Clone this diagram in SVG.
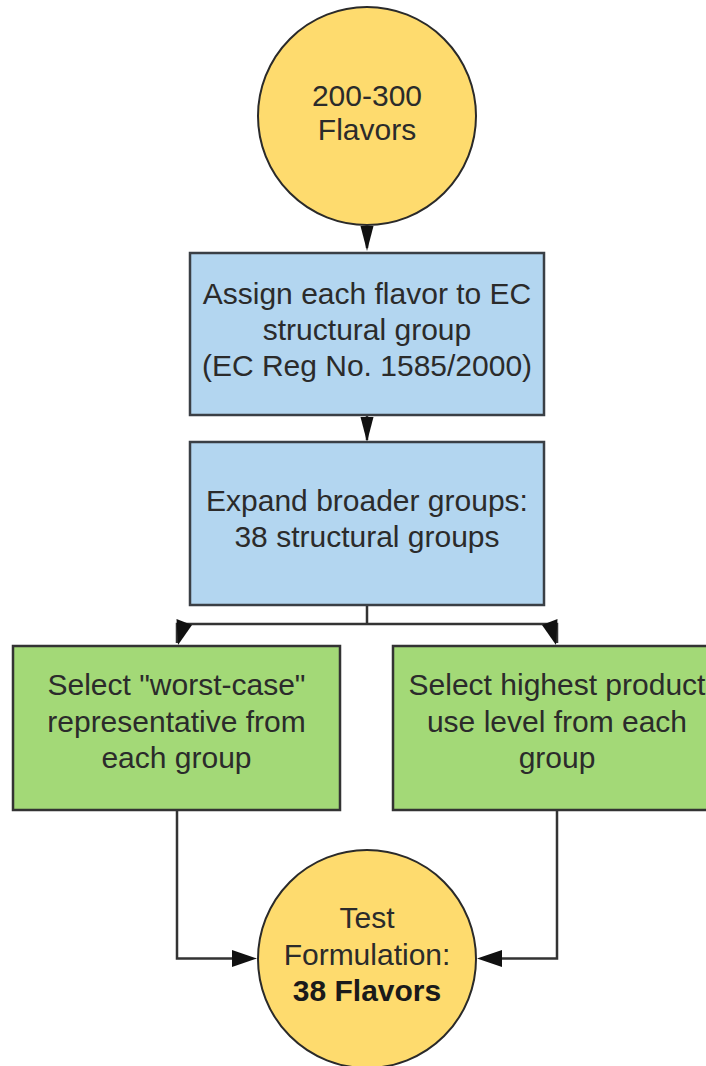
<svg xmlns="http://www.w3.org/2000/svg" width="706" height="1066" viewBox="0 0 706 1066">
  <style>
    .txt { font-family: "Liberation Sans", Arial, sans-serif; font-size: 30px; fill: #2b2b2b; text-anchor: middle; }
    .bold { font-weight: bold; fill: #1a1a1a; }
    .circle { fill: #fedb6e; stroke: #2a2a2a; stroke-width: 2; }
    .blue { fill: #b3d6f0; stroke: #3a3f45; stroke-width: 2.5; }
    .green { fill: #a3d977; stroke: #333333; stroke-width: 2.5; }
    .conn { fill: none; stroke: #333333; stroke-width: 2.5; }
    .head { fill: #111111; stroke: none; }
  </style>
  <rect width="706" height="1066" fill="#ffffff"/>

  <g id="connectors">
    <line class="conn" x1="367" y1="225" x2="367" y2="248"/>
    <polygon class="head" points="360.5,226 373.5,226 367,251"/>
    <line class="conn" x1="367" y1="415" x2="367" y2="440"/>
    <polygon class="head" points="360.5,417 373.5,417 367,442"/>
    <polyline class="conn" points="367,605 367,624"/>
    <polyline class="conn" points="177,643 177,624 557,624 557,643"/>
    <polygon class="head" points="176.5,619 192,625 178,645"/>
    <polygon class="head" points="557.5,619 542,625 556,645"/>
    <polyline class="conn" points="177,810 177,958.5 236,958.5"/>
    <polygon class="head" points="232,950 257,958.5 232,967"/>
    <polyline class="conn" points="557,810 557,958.5 498,958.5"/>
    <polygon class="head" points="502,950 477,958.5 502,967"/>
  </g>

  <g id="node-start">
    <circle class="circle" cx="367" cy="116" r="109"/>
    <text class="txt" x="367" y="106">200-300</text>
    <text class="txt" x="367" y="140">Flavors</text>
  </g>

  <g id="node-assign">
    <rect class="blue" x="190" y="253" width="354" height="162"/>
    <text class="txt" x="367" y="304">Assign each flavor to EC</text>
    <text class="txt" x="367" y="340">structural group</text>
    <text class="txt" x="367" y="376">(EC Reg No. 1585/2000)</text>
  </g>

  <g id="node-expand">
    <rect class="blue" x="190" y="442" width="354" height="163"/>
    <text class="txt" x="367" y="511">Expand broader groups:</text>
    <text class="txt" x="367" y="547">38 structural groups</text>
  </g>

  <g id="node-worst-case">
    <rect class="green" x="13" y="646" width="327" height="164"/>
    <text class="txt" x="176.5" y="695">Select "worst-case"</text>
    <text class="txt" x="176.5" y="732">representative from</text>
    <text class="txt" x="176.5" y="768">each group</text>
  </g>

  <g id="node-highest-use">
    <rect class="green" x="393" y="646" width="328" height="164"/>
    <text class="txt" x="557" y="695">Select highest product</text>
    <text class="txt" x="557" y="732">use level from each</text>
    <text class="txt" x="557" y="768">group</text>
  </g>

  <g id="node-test-formulation">
    <circle class="circle" cx="367" cy="959" r="109"/>
    <text class="txt" x="367" y="928">Test</text>
    <text class="txt" x="367" y="965">Formulation:</text>
    <text class="txt bold" x="367" y="1001">38 Flavors</text>
  </g>
</svg>
